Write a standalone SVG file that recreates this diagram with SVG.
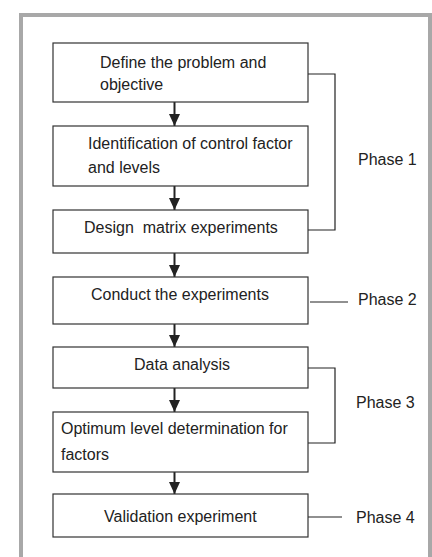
<svg xmlns="http://www.w3.org/2000/svg" width="432" height="557" viewBox="0 0 432 557">
<style>
.box{fill:#fff;stroke:#333;stroke-width:1.2}
.t{font-family:"Liberation Sans",Arial,sans-serif;font-size:16px;fill:#222}
.ln{fill:none;stroke:#222;stroke-width:1.2}
.ar{stroke:#222;stroke-width:2;fill:none}
</style>
<defs>
<marker id="ah" markerWidth="12" markerHeight="11" refX="12" refY="5.5" orient="auto" markerUnits="userSpaceOnUse" viewBox="0 0 12 11">
<path d="M0,0 L12,5.5 L0,11 Z" fill="#222"/>
</marker>
</defs>
<rect x="0" y="0" width="432" height="557" fill="#fff"/>
<rect x="21" y="15" width="409" height="560" fill="#fff" stroke="#a8a8a8" stroke-width="4"/>
<g id="connectors">
<line class="ar" x1="174.5" y1="102" x2="174.5" y2="126" marker-end="url(#ah)"/>
<line class="ar" x1="174.5" y1="186" x2="174.5" y2="210" marker-end="url(#ah)"/>
<line class="ar" x1="174.5" y1="253" x2="174.5" y2="277" marker-end="url(#ah)"/>
<line class="ar" x1="174.5" y1="324" x2="174.5" y2="347" marker-end="url(#ah)"/>
<line class="ar" x1="174.5" y1="388" x2="174.5" y2="412" marker-end="url(#ah)"/>
<line class="ar" x1="174.5" y1="472" x2="174.5" y2="494" marker-end="url(#ah)"/>
<polyline class="ln" points="308,74 335,74 335,230 304,230"/>
<line class="ln" x1="310" y1="302" x2="348" y2="302"/>
<polyline class="ln" points="308,368 335,368 335,443 308,443"/>
<line class="ln" x1="308" y1="517" x2="342" y2="517"/>
</g>
<g id="n1"><rect class="box" x="53" y="43" width="255" height="59"/>
<text class="t" x="100" y="68">Define the problem and</text><text class="t" x="100" y="90">objective</text></g>
<g id="n2"><rect class="box" x="53" y="126" width="255" height="60"/>
<text class="t" x="88" y="149">Identification of control factor</text><text class="t" x="88" y="173">and levels</text></g>
<g id="n3"><rect class="box" x="53" y="210" width="255" height="43"/>
<text class="t" x="84" y="233" xml:space="preserve">Design  matrix experiments</text></g>
<g id="n4"><rect class="box" x="53" y="277" width="255" height="47"/>
<text class="t" x="91" y="300" xml:space="preserve">Conduct the experiments</text></g>
<g id="n5"><rect class="box" x="53" y="347" width="255" height="41"/>
<text class="t" x="134" y="370">Data analysis</text></g>
<g id="n6"><rect class="box" x="53" y="412" width="255" height="60"/>
<text class="t" x="61" y="434">Optimum level determination for</text><text class="t" x="61" y="460">factors</text></g>
<g id="n7"><rect class="box" x="53" y="494" width="255" height="43"/>
<text class="t" x="104" y="522">Validation experiment</text></g>
<g id="labels">
<text class="t" x="358" y="165">Phase 1</text>
<text class="t" x="358" y="305">Phase 2</text>
<text class="t" x="356" y="408">Phase 3</text>
<text class="t" x="356" y="523">Phase 4</text>
</g>
</svg>
